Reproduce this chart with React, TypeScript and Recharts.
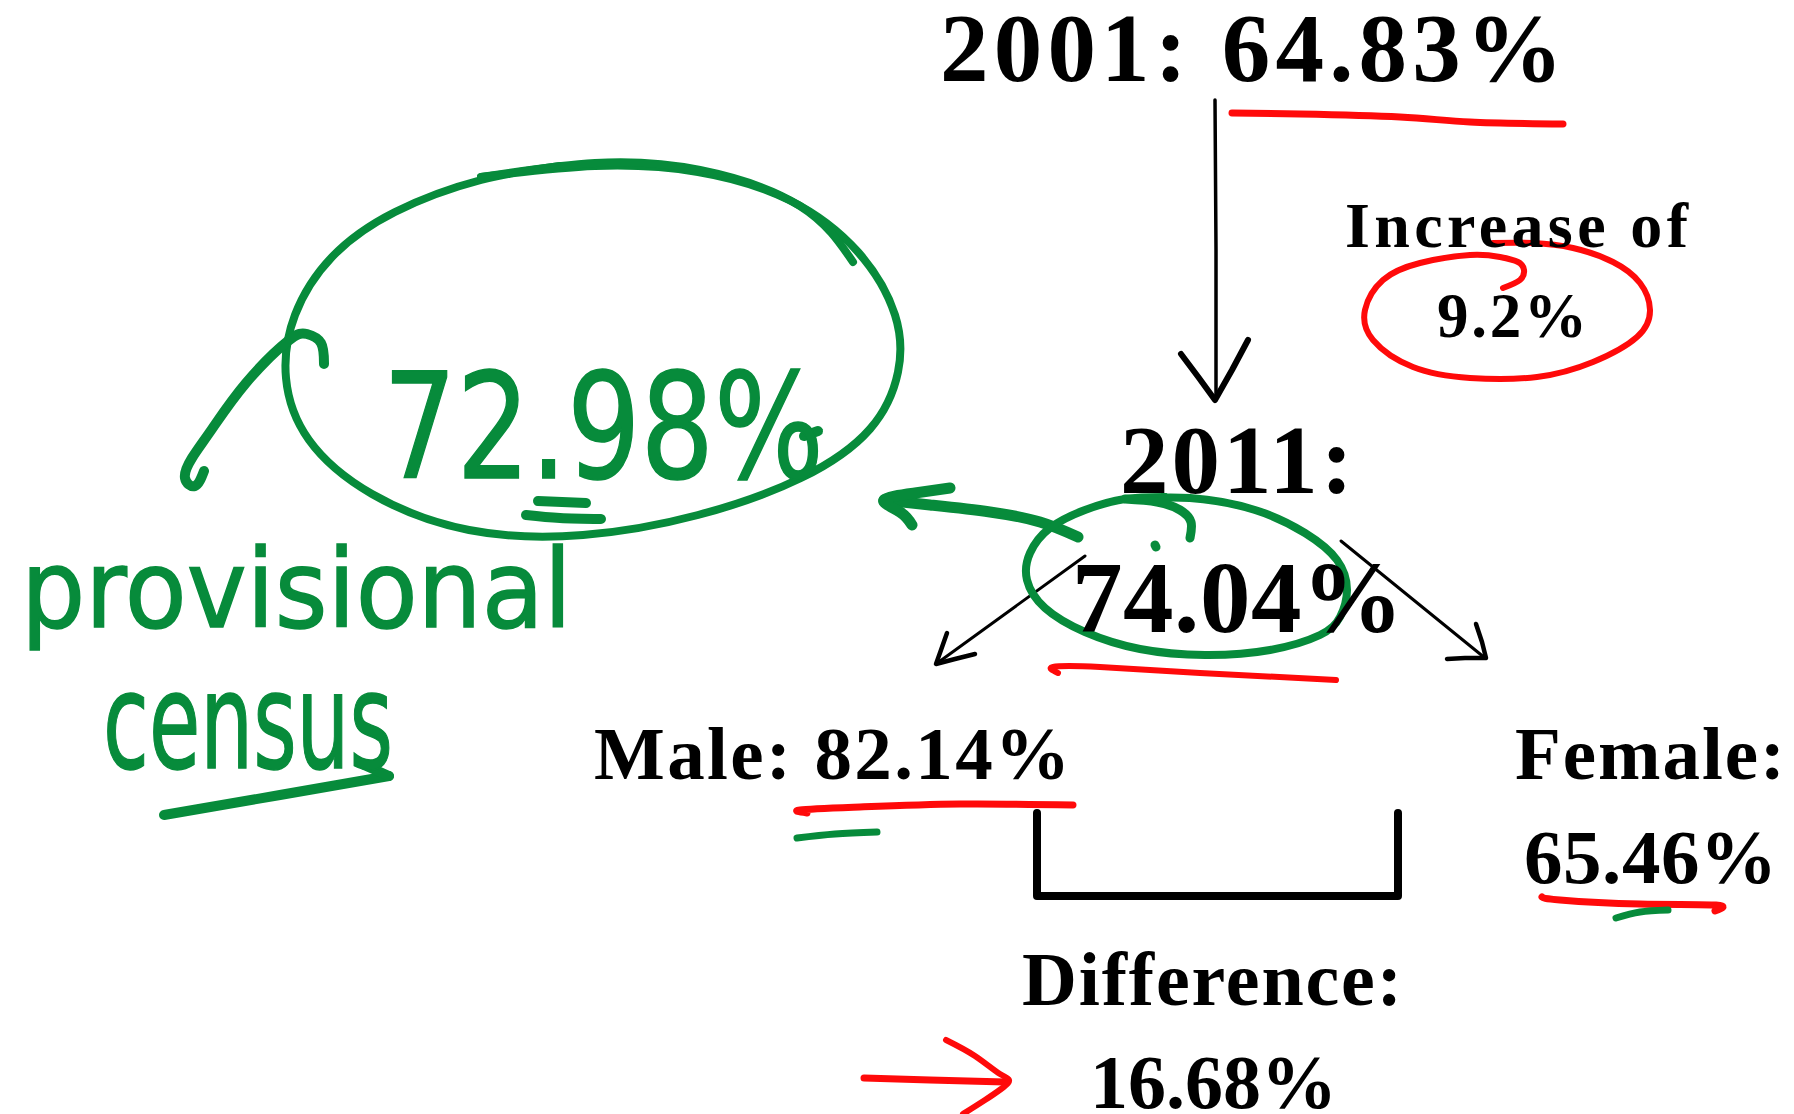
import React from 'react';
import { ScatterChart, Scatter, XAxis, YAxis } from 'recharts';

// ---------- values ----------
const years = ['2001', '2011'];
const totalLiteracy = [64.83, 74.04];
const genders = ['Male', 'Female'];
const genderLiteracy = [82.14, 65.46];
const increaseLabel = 'Increase of';
const increase = 9.2;
const differenceLabel = 'Difference:';
const difference = 16.68;
const provisionalFigure = 72.98;
const provisionalNote = ['provisional', 'census'];

// ---------- label texts ----------
const labelTexts = [
  `${years[0]}: ${totalLiteracy[0]}%`,
  increaseLabel,
  `${increase}%`,
  `${years[1]}:`,
  `${totalLiteracy[1]}%`,
  `${genders[0]}: ${genderLiteracy[0]}%`,
  `${genders[1]}:`,
  `${genderLiteracy[1]}%`,
  differenceLabel,
  `${difference}%`,
  `${provisionalFigure}%`,
  provisionalNote[0],
  provisionalNote[1],
];

// anchor (left, baseline) of each label in chart units
const labelX = [940, 1345, 1437, 1120, 1072, 594, 1515, 1524, 1022, 1090, 383, 21, 103];
const labelY = [81, 247, 337, 493, 632, 779, 779, 883, 1005, 1108, 478, 627, 768];

// ---------- hand-drawn strokes (points in chart units) ----------
const arrowDownShaft = [{ x: 1215, y: 100 }, { x: 1216, y: 250 }, { x: 1216, y: 396 }];
const arrowDownHead = [{ x: 1181, y: 354 }, { x: 1199, y: 378 }, { x: 1215, y: 400 }, { x: 1232, y: 370 }, { x: 1248, y: 340 }];
const arrowLeftShaft = [{ x: 1085, y: 556 }, { x: 936, y: 664 }];
const arrowLeftHead = [{ x: 947, y: 633 }, { x: 941, y: 650 }, { x: 936, y: 664 }, { x: 955, y: 659 }, { x: 975, y: 654 }];
const arrowRightShaft = [{ x: 1341, y: 541 }, { x: 1485, y: 658 }];
const arrowRightHead = [{ x: 1476, y: 624 }, { x: 1482, y: 642 }, { x: 1486, y: 658 }, { x: 1465, y: 658 }, { x: 1447, y: 659 }];
const bracket = [{ x: 1037, y: 813 }, { x: 1037, y: 896 }, { x: 1398, y: 896 }, { x: 1398, y: 813 }];

const redUnder2001 = [{ x: 1232, y: 113 }, { x: 1300, y: 114 }, { x: 1400, y: 117 }, { x: 1470, y: 122 }, { x: 1563, y: 124 }];
const redLoop = [
  { x: 1503, y: 288 }, { x: 1520, y: 280 }, { x: 1524, y: 270 }, { x: 1518, y: 262 }, { x: 1500, y: 257 },
  { x: 1470, y: 255 }, { x: 1420, y: 263 }, { x: 1383, y: 280 }, { x: 1365, y: 310 }, { x: 1373, y: 340 },
  { x: 1413, y: 367 }, { x: 1470, y: 378 }, { x: 1537, y: 377 }, { x: 1593, y: 362 }, { x: 1637, y: 337 },
  { x: 1650, y: 310 }, { x: 1640, y: 283 }, { x: 1613, y: 262 }, { x: 1573, y: 248 }, { x: 1533, y: 243 },
  { x: 1493, y: 243 },
];
const redUnder2011 = [{ x: 1058, y: 673 }, { x: 1053, y: 667 }, { x: 1100, y: 667 }, { x: 1200, y: 673 }, { x: 1336, y: 680 }];
const redUnderMale = [{ x: 807, y: 813 }, { x: 800, y: 810 }, { x: 860, y: 807 }, { x: 960, y: 804 }, { x: 1073, y: 805 }];
const redUnderFemale = [{ x: 1542, y: 897 }, { x: 1560, y: 900 }, { x: 1640, y: 904 }, { x: 1716, y: 905 }, { x: 1715, y: 911 }];
const redArrowShaft = [{ x: 864, y: 1078 }, { x: 930, y: 1080 }, { x: 1005, y: 1082 }];
const redArrowHead = [{ x: 946, y: 1040 }, { x: 975, y: 1056 }, { x: 1000, y: 1074 }, { x: 1008, y: 1083 }, { x: 985, y: 1100 }, { x: 963, y: 1114 }];

const greenBigLoop = [
  { x: 481, y: 177 }, { x: 595, y: 166 }, { x: 698, y: 172 }, { x: 789, y: 200 }, { x: 858, y: 252 },
  { x: 895, y: 315 }, { x: 898, y: 372 }, { x: 870, y: 429 }, { x: 801, y: 478 }, { x: 698, y: 515 },
  { x: 583, y: 535 }, { x: 469, y: 530 }, { x: 372, y: 494 }, { x: 309, y: 440 }, { x: 286, y: 378 },
  { x: 295, y: 315 }, { x: 332, y: 257 }, { x: 395, y: 212 }, { x: 481, y: 180 }, { x: 560, y: 166 },
];
const greenBigLoopExtra = [{ x: 481, y: 177 }, { x: 595, y: 163 }, { x: 700, y: 170 }, { x: 800, y: 206 }, { x: 853, y: 262 }];
const greenCurl = [
  { x: 324, y: 364 }, { x: 321, y: 343 }, { x: 307, y: 334 }, { x: 288, y: 341 }, { x: 246, y: 383 },
  { x: 212, y: 429 }, { x: 192, y: 458 }, { x: 185, y: 478 }, { x: 195, y: 486 }, { x: 204, y: 471 },
];
const greenArrowShaft = [{ x: 1078, y: 537 }, { x: 1040, y: 522 }, { x: 990, y: 512 }, { x: 930, y: 505 }, { x: 884, y: 500 }];
const greenArrowHead = [{ x: 950, y: 488 }, { x: 915, y: 493 }, { x: 884, y: 500 }, { x: 900, y: 512 }, { x: 912, y: 525 }];
const greenSmallLoop = [
  { x: 1125, y: 499 }, { x: 1190, y: 498 }, { x: 1255, y: 510 }, { x: 1305, y: 533 }, { x: 1337, y: 560 },
  { x: 1347, y: 590 }, { x: 1340, y: 617 }, { x: 1320, y: 635 }, { x: 1270, y: 650 }, { x: 1205, y: 655 },
  { x: 1140, y: 649 }, { x: 1085, y: 632 }, { x: 1045, y: 608 }, { x: 1027, y: 580 }, { x: 1030, y: 553 },
  { x: 1050, y: 528 }, { x: 1085, y: 510 }, { x: 1125, y: 499 }, { x: 1165, y: 497 },
];
const greenSmallHook = [{ x: 1190, y: 538 }, { x: 1191, y: 522 }, { x: 1180, y: 510 }, { x: 1157, y: 502 }, { x: 1125, y: 499 }];
const greenDot = [{ x: 1155, y: 545 }, { x: 1156, y: 547 }];
const greenEqTop = [{ x: 538, y: 501 }, { x: 586, y: 503 }];
const greenEqBottom = [{ x: 526, y: 515 }, { x: 560, y: 518 }, { x: 601, y: 519 }];
const greenDashAfter = [{ x: 804, y: 436 }, { x: 818, y: 431 }];
const greenUnderCensus = [{ x: 164, y: 815 }, { x: 280, y: 795 }, { x: 389, y: 776 }];
const greenUnderCensusTick = [{ x: 364, y: 765 }, { x: 389, y: 776 }];
const greenDashMale = [{ x: 797, y: 838 }, { x: 835, y: 834 }, { x: 877, y: 832 }];
const greenDashFemale = [{ x: 1616, y: 918 }, { x: 1640, y: 912 }, { x: 1668, y: 910 }];

// ---------- styles ----------
const BLACK = '#000000';
const RED = '#ff0a0a';
const GREEN = '#078b3b';
const SERIF = '"Liberation Serif", "Times New Roman", serif';
const HAND = '"DejaVu Sans", sans-serif';

type LabelStyle = { size: number; width: number; font: string; weight: string; color: string; adjust: string };
const labelStyles: LabelStyle[] = [
  { size: 97, width: 623, font: SERIF, weight: 'bold', color: BLACK, adjust: 'spacing' },
  { size: 64, width: 343, font: SERIF, weight: 'bold', color: BLACK, adjust: 'spacing' },
  { size: 63, width: 150, font: SERIF, weight: 'bold', color: BLACK, adjust: 'spacing' },
  { size: 97, width: 233, font: SERIF, weight: 'bold', color: BLACK, adjust: 'spacing' },
  { size: 101, width: 331, font: SERIF, weight: 'bold', color: BLACK, adjust: 'spacing' },
  { size: 75, width: 476, font: SERIF, weight: 'bold', color: BLACK, adjust: 'spacing' },
  { size: 75, width: 270, font: SERIF, weight: 'bold', color: BLACK, adjust: 'spacing' },
  { size: 77, width: 253, font: SERIF, weight: 'bold', color: BLACK, adjust: 'spacing' },
  { size: 76, width: 380, font: SERIF, weight: 'bold', color: BLACK, adjust: 'spacing' },
  { size: 76, width: 247, font: SERIF, weight: 'bold', color: BLACK, adjust: 'spacing' },
  { size: 146, width: 441, font: HAND, weight: 'normal', color: GREEN, adjust: 'spacingAndGlyphs' },
  { size: 108, width: 551, font: HAND, weight: 'normal', color: GREEN, adjust: 'spacingAndGlyphs' },
  { size: 134, width: 290, font: HAND, weight: 'normal', color: GREEN, adjust: 'spacingAndGlyphs' },
];

const labelTable = labelTexts.map((text, i) => ({ x: labelX[i], y: labelY[i], text, idx: i }));

type StrokeDef = { name: string; data: { x: number; y: number }[]; color: string; width: number; curve: any };
const strokes: StrokeDef[] = [
  { name: 'arrowDownShaft', data: arrowDownShaft, color: BLACK, width: 3.5, curve: 'linear' },
  { name: 'arrowDownHead', data: arrowDownHead, color: BLACK, width: 6, curve: 'linear' },
  { name: 'arrowLeftShaft', data: arrowLeftShaft, color: BLACK, width: 3, curve: 'linear' },
  { name: 'arrowLeftHead', data: arrowLeftHead, color: BLACK, width: 4.5, curve: 'linear' },
  { name: 'arrowRightShaft', data: arrowRightShaft, color: BLACK, width: 3, curve: 'linear' },
  { name: 'arrowRightHead', data: arrowRightHead, color: BLACK, width: 4.5, curve: 'linear' },
  { name: 'bracket', data: bracket, color: BLACK, width: 8, curve: 'linear' },
  { name: 'redUnder2001', data: redUnder2001, color: RED, width: 7, curve: 'natural' },
  { name: 'redLoop', data: redLoop, color: RED, width: 6, curve: 'natural' },
  { name: 'redUnder2011', data: redUnder2011, color: RED, width: 6, curve: 'natural' },
  { name: 'redUnderMale', data: redUnderMale, color: RED, width: 7, curve: 'natural' },
  { name: 'redUnderFemale', data: redUnderFemale, color: RED, width: 7, curve: 'natural' },
  { name: 'redArrowShaft', data: redArrowShaft, color: RED, width: 7, curve: 'natural' },
  { name: 'redArrowHead', data: redArrowHead, color: RED, width: 6, curve: 'natural' },
  { name: 'greenBigLoop', data: greenBigLoop, color: GREEN, width: 8, curve: 'natural' },
  { name: 'greenBigLoopExtra', data: greenBigLoopExtra, color: GREEN, width: 8, curve: 'natural' },
  { name: 'greenCurl', data: greenCurl, color: GREEN, width: 10, curve: 'natural' },
  { name: 'greenArrowShaft', data: greenArrowShaft, color: GREEN, width: 11, curve: 'natural' },
  { name: 'greenArrowHead', data: greenArrowHead, color: GREEN, width: 11, curve: 'natural' },
  { name: 'greenSmallLoop', data: greenSmallLoop, color: GREEN, width: 8, curve: 'natural' },
  { name: 'greenSmallHook', data: greenSmallHook, color: GREEN, width: 9, curve: 'natural' },
  { name: 'greenDot', data: greenDot, color: GREEN, width: 9, curve: 'linear' },
  { name: 'greenEqTop', data: greenEqTop, color: GREEN, width: 10, curve: 'linear' },
  { name: 'greenEqBottom', data: greenEqBottom, color: GREEN, width: 10, curve: 'natural' },
  { name: 'greenDashAfter', data: greenDashAfter, color: GREEN, width: 10, curve: 'linear' },
  { name: 'greenUnderCensus', data: greenUnderCensus, color: GREEN, width: 10, curve: 'natural' },
  { name: 'greenUnderCensusTick', data: greenUnderCensusTick, color: GREEN, width: 10, curve: 'linear' },
  { name: 'greenDashMale', data: greenDashMale, color: GREEN, width: 7, curve: 'natural' },
  { name: 'greenDashFemale', data: greenDashFemale, color: GREEN, width: 7, curve: 'natural' },
];

const Empty = () => <g />;

const TextMark = (props: any) => {
  const { cx, cy, payload } = props;
  const s = labelStyles[payload.idx];
  return (
    <text
      x={cx}
      y={cy}
      fontFamily={s.font}
      fontSize={s.size}
      fontWeight={s.weight}
      fill={s.color}
      stroke={s.color === GREEN ? GREEN : 'none'}
      strokeWidth={s.color === GREEN ? 1.5 : 0}
      textLength={s.width}
      lengthAdjust={s.adjust}
    >
      {payload.text}
    </text>
  );
};

export default function App() {
  return (
    <div style={{ position: 'absolute', left: 0, top: 0, width: 1794, height: 1114, background: '#ffffff' }}>
      <ScatterChart width={1794} height={1114} margin={{ top: 0, right: 0, bottom: 0, left: 0 }}>
        <XAxis type="number" dataKey="x" domain={[0, 1794]} allowDataOverflow hide />
        <YAxis type="number" dataKey="y" domain={[0, 1114]} allowDataOverflow reversed hide />
        {strokes.map((s) => (
          <Scatter
            key={s.name}
            name={s.name}
            data={s.data}
            fill={s.color}
            shape={Empty}
            line={{ stroke: s.color, strokeWidth: s.width, strokeLinecap: 'round', strokeLinejoin: 'round' }}
            lineType="joint"
            lineJointType={s.curve}
            isAnimationActive={false}
          />
        ))}
        <Scatter name="labels" data={labelTable} shape={TextMark} isAnimationActive={false} />
      </ScatterChart>
    </div>
  );
}
